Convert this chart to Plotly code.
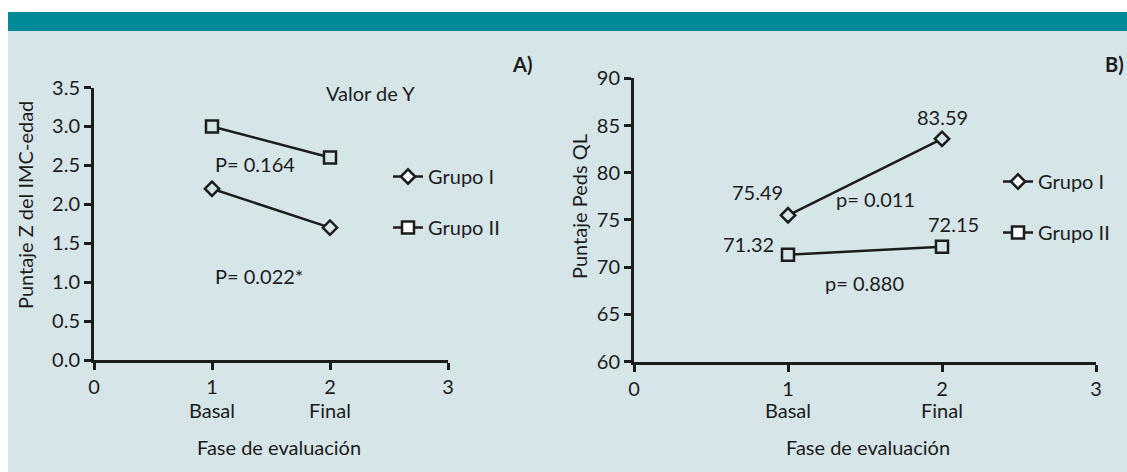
import plotly.graph_objects as go

# ---------------- data ----------------
fases = [1, 2]
fase_labels = ["Basal", "Final"]
x_ticks = [0, 1, 2, 3]

imc_grupo1 = [2.2, 1.7]
imc_grupo2 = [3.0, 2.6]
imc_p_g2 = "P= 0.164"
imc_p_g1 = "P= 0.022*"

peds_grupo1 = [75.49, 83.59]
peds_grupo2 = [71.32, 72.15]
peds_p_g1 = "p= 0.011"
peds_p_g2 = "p= 0.880"

series_names = ["Grupo I", "Grupo II"]

# ---------------- style / geometry ----------------
W, H = 1127, 472
BG = "#d6e5e8"
TEAL = "#008a97"
INK = "#1c1c1c"
FONT = "Lato"
FS = 20


def px(x):
    return x / W


def py(y):
    return 1 - y / H


fig = go.Figure()

marker_g1 = dict(symbol="diamond", size=11, color=BG, line=dict(color=INK, width=2.5))
marker_g2 = dict(symbol="square", size=12, color=BG, line=dict(color=INK, width=2.5))
leg_g1 = dict(symbol="diamond", size=11, color="white", line=dict(color=INK, width=2.5))
leg_g2 = dict(symbol="square", size=12, color="white", line=dict(color=INK, width=2.5))
line_style = dict(color=INK, width=2.5)

# panel A
fig.add_trace(go.Scatter(x=fases, y=imc_grupo1, mode="lines+markers", marker=marker_g1,
                         line=line_style, showlegend=False, xaxis="x", yaxis="y"))
fig.add_trace(go.Scatter(x=fases, y=imc_grupo2, mode="lines+markers", marker=marker_g2,
                         line=line_style, showlegend=False, xaxis="x", yaxis="y"))
# panel B
fig.add_trace(go.Scatter(x=fases, y=peds_grupo1, mode="lines+markers", marker=marker_g1,
                         line=line_style, showlegend=False, xaxis="x2", yaxis="y2"))
fig.add_trace(go.Scatter(x=fases, y=peds_grupo2, mode="lines+markers", marker=marker_g2,
                         line=line_style, showlegend=False, xaxis="x2", yaxis="y2"))

# legend entries (one legend per panel)
for leg, xa, ya in (("legend", "x", "y"), ("legend2", "x2", "y2")):
    fig.add_trace(go.Scatter(x=[None], y=[None], mode="lines+markers", name=series_names[0],
                             marker=leg_g1, line=line_style, legend=leg, legendgroup=leg + "a",
                             xaxis=xa, yaxis=ya))
    fig.add_trace(go.Scatter(x=[None], y=[None], mode="lines+markers", name=series_names[1],
                             marker=leg_g2, line=line_style, legend=leg, legendgroup=leg + "b",
                             xaxis=xa, yaxis=ya))

axis_common = dict(showline=True, linewidth=3, linecolor=INK, ticks="outside", ticklen=7,
                   tickwidth=2.5, tickcolor=INK, showgrid=False, zeroline=False,
                   tickfont=dict(family=FONT, size=FS, color=INK), fixedrange=True)

legend_common = dict(font=dict(family=FONT, size=FS, color=INK), bgcolor="rgba(0,0,0,0)",
                     borderwidth=0, traceorder="grouped", tracegroupgap=22,
                     xanchor="left", yanchor="top")

fig.update_layout(
    width=W, height=H,
    margin=dict(l=0, r=0, t=0, b=0, autoexpand=False),
    paper_bgcolor=BG, plot_bgcolor="rgba(0,0,0,0)",
    font=dict(family=FONT, size=FS, color=INK),
    xaxis=dict(domain=[px(94), px(448)], range=[0, 3], tickvals=x_ticks, anchor="y", **axis_common),
    yaxis=dict(domain=[py(360), py(87.5)], range=[0, 3.5], dtick=0.5, tickformat=".1f",
               anchor="x", **axis_common),
    xaxis2=dict(domain=[px(634), px(1096)], range=[0, 3], tickvals=x_ticks, anchor="y2", **axis_common),
    yaxis2=dict(domain=[py(361.5), py(78.3)], range=[60, 90], dtick=5, anchor="x2", **axis_common),
    legend=dict(x=px(388), y=py(157), **legend_common),
    legend2=dict(x=px(998), y=py(162), **legend_common),
)

# page frame: white edges + teal header band
fig.add_shape(type="rect", xref="paper", yref="paper", x0=0, x1=1, y0=py(12), y1=1,
              fillcolor="white", line_width=0, layer="below")
fig.add_shape(type="rect", xref="paper", yref="paper", x0=0, x1=px(8), y0=0, y1=1,
              fillcolor="white", line_width=0, layer="below")
fig.add_shape(type="rect", xref="paper", yref="paper", x0=px(8), x1=1, y0=py(31), y1=py(12),
              fillcolor=TEAL, line_width=0, layer="below")

ann = []


def text(x, y, t, xanchor="center", bold=False, angle=0, xref="paper", yref="paper"):
    ann.append(dict(x=x, y=y, xref=xref, yref=yref, text=("<b>%s</b>" % t) if bold else t,
                    showarrow=False, xanchor=xanchor, yanchor="middle", textangle=angle,
                    font=dict(family=FONT, size=FS, color=INK)))


# category labels under the x axes
for xa in ("x", "x2"):
    for f, lab in zip(fases, fase_labels):
        text(f, py(410), lab, xref=xa)

# axis titles
text(px(279), py(447), "Fase de evaluación")
text(px(868), py(447), "Fase de evaluación")
text(px(25), py(205), "Puntaje Z del IMC-edad", angle=-90)
text(px(579), py(207), "Puntaje Peds QL", angle=-90)

# panel tags and notes
text(px(522), py(64), "A)", bold=True)
text(px(1114), py(64), "B)", bold=True)
text(px(370), py(93), "Valor de Y")
text(px(213), py(164), imc_p_g2, xanchor="left")
text(px(213), py(276), imc_p_g1, xanchor="left")
text(px(834), py(199), peds_p_g1, xanchor="left")
text(px(823), py(283), peds_p_g2, xanchor="left")

# value labels in panel B
for vals, shifts in ((peds_grupo1, [(-31, 23), (0, 22)]), (peds_grupo2, [(-40, 11), (11, 23)])):
    for f, v, (dx, dy) in zip(fases, vals, shifts):
        ann.append(dict(x=f, y=v, xref="x2", yref="y2", text="%.2f" % v, showarrow=False,
                        xshift=dx, yshift=dy, xanchor="center", yanchor="middle",
                        font=dict(family=FONT, size=FS, color=INK)))

fig.update_layout(annotations=ann)

fig.write_html("out.html", config={"displayModeBar": False},
               post_script="document.body.style.margin='0';document.body.style.overflow='hidden';")
